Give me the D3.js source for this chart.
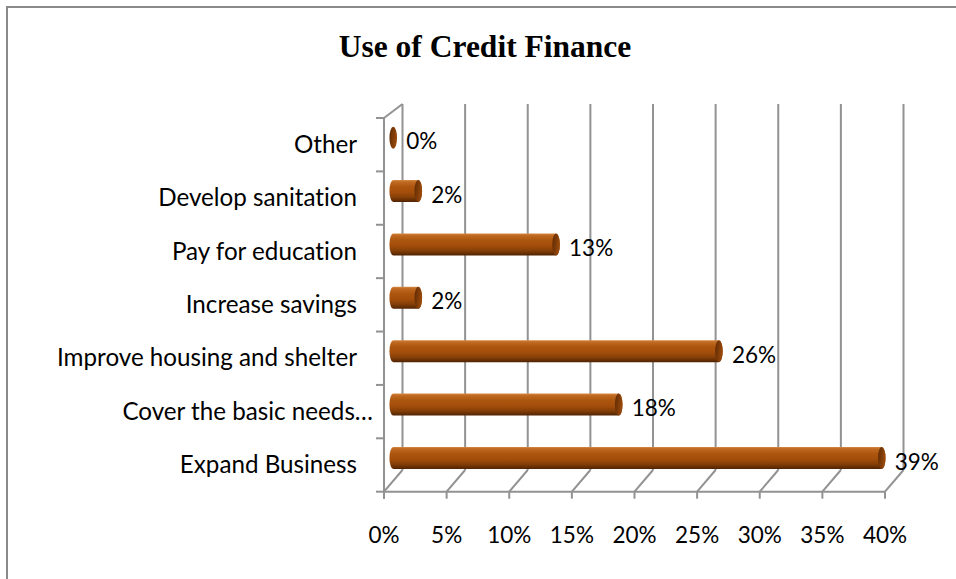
<!DOCTYPE html>
<html>
<head>
<meta charset="utf-8">
<script src="https://cdn.jsdelivr.net/npm/d3@7"></script>
<style>
  html, body { margin: 0; padding: 0; background: #fff; }
  svg { display: block; }
  text { font-variant-ligatures: none; font-feature-settings: "liga" 0, "clig" 0; }
</style>
</head>
<body>
<svg id="chart" width="956" height="579"></svg>
<script>
// Uses of credit finance, share of respondents (%)
const categories = [
  "Expand Business",
  "Cover the basic needs…",
  "Improve housing and shelter",
  "Increase savings",
  "Pay for education",
  "Develop sanitation",
  "Other"
];
const values = [39, 18, 26, 2, 13, 2, 0];
const xTicks = [0, 5, 10, 15, 20, 25, 30, 35, 40];
const title = "Use of Credit Finance";

const svg = d3.select("#chart");
const W = 956, H = 579;

// Outer frame
svg.append("rect")
  .attr("x", 7).attr("y", 7).attr("width", W + 20).attr("height", H + 20)
  .attr("fill", "#fff").attr("stroke", "#8a8a8a").attr("stroke-width", 2);

// Title
svg.append("text")
  .attr("x", 485).attr("y", 57)
  .attr("text-anchor", "middle")
  .style("font-family", "'Liberation Serif', 'Times New Roman', serif")
  .style("font-weight", "bold")
  .style("font-size", "31.5px")
  .attr("fill", "#000")
  .text(title);

// 3D box geometry: front plane and back wall
const frontBottom = 491.7, frontTop = 118;
const backBottom = 470, backTop = 104;
const depthX = 18.5;

const xFront = d3.scaleLinear().domain([0, 40]).range([384, 885]);
const xBack = v => xFront(v) + depthX;
const xMid = v => xFront(v) + depthX / 2;

const yBand = d3.scaleBand()
  .domain(categories.slice().reverse())
  .range([frontTop, frontBottom])
  .paddingInner(0).paddingOuter(0);

const grid = svg.append("g")
  .attr("stroke", "#929292").attr("stroke-width", 2).attr("fill", "none");

// Back-wall vertical gridlines and floor diagonals
xTicks.forEach(t => {
  grid.append("line")
    .attr("x1", xBack(t)).attr("x2", xBack(t))
    .attr("y1", backTop).attr("y2", backBottom);
  grid.append("line")
    .attr("x1", xFront(t)).attr("y1", frontBottom)
    .attr("x2", xBack(t)).attr("y2", backBottom);
  // tick mark below the front edge
  grid.append("line")
    .attr("x1", xFront(t)).attr("x2", xFront(t))
    .attr("y1", frontBottom).attr("y2", frontBottom + 7);
});

// Front floor edge
grid.append("line")
  .attr("x1", xFront(0)).attr("x2", xFront(40))
  .attr("y1", frontBottom).attr("y2", frontBottom);

// Left wall: front edge and top diagonal
grid.append("line")
  .attr("x1", xFront(0)).attr("x2", xFront(0))
  .attr("y1", frontTop).attr("y2", frontBottom + 7);
grid.append("line")
  .attr("x1", xFront(0)).attr("y1", frontTop)
  .attr("x2", xBack(0)).attr("y2", backTop);

// Category boundary ticks on the left axis
const boundaries = yBand.domain().map(c => yBand(c)).concat([frontBottom]);
boundaries.forEach(y => {
  grid.append("line")
    .attr("x1", xFront(0) - 8).attr("x2", xFront(0))
    .attr("y1", y).attr("y2", y);
});

// Cylinder shading
const defs = svg.append("defs");
const body = defs.append("linearGradient")
  .attr("id", "cylBody").attr("x1", 0).attr("y1", 0).attr("x2", 0).attr("y2", 1);
[
  [0, "#d58a45"], [0.08, "#c06a22"], [0.3, "#ad560f"], [0.55, "#a44e0b"],
  [0.78, "#853f07"], [1, "#4f2303"]
].forEach(([o, c]) => body.append("stop").attr("offset", o).attr("stop-color", c));

const cap = defs.append("linearGradient")
  .attr("id", "cylCap").attr("x1", 0).attr("y1", 0).attr("x2", 1).attr("y2", 0.3);
[
  [0, "#5e2a04"], [0.5, "#7a3907"], [1, "#9a4a0c"]
].forEach(([o, c]) => cap.append("stop").attr("offset", o).attr("stop-color", c));

const barH = 22;
const rx = 3.8;
const barCenter = c => yBand(c) + yBand.bandwidth() / 2 - 7;

const bars = svg.append("g");
categories.forEach((c, i) => {
  const v = values[i];
  const cy = barCenter(c);
  const x0 = xMid(0), x1 = xMid(v);
  const top = cy - barH / 2, bot = cy + barH / 2;
  if (x1 - x0 > 0.5) {
    bars.append("path")
      .attr("d", `M${x0},${top} L${x1},${top} A${rx},${barH / 2} 0 0 1 ${x1},${bot} L${x0},${bot} A${rx},${barH / 2} 0 0 1 ${x0},${top} Z`)
      .attr("fill", "url(#cylBody)");
  }
  bars.append("ellipse")
    .attr("cx", x1).attr("cy", cy)
    .attr("rx", rx).attr("ry", barH / 2)
    .attr("fill", "url(#cylCap)");
});

const labelFont = "Lato, 'Open Sans', sans-serif";
const numberSize = "22.5px";
const categorySize = "24.2px";

// Value labels
svg.append("g").selectAll("text")
  .data(categories)
  .join("text")
  .attr("x", (c, i) => xMid(values[i]) + 13)
  .attr("y", c => barCenter(c) + 3.5)
  .attr("dy", "0.36em")
  .style("font-family", labelFont).style("font-size", numberSize)
  .attr("fill", "#000")
  .text((c, i) => values[i] + "%");

// Category labels (truncated names hang a little further right)
svg.append("g").selectAll("text")
  .data(categories)
  .join("text")
  .attr("x", c => c.endsWith("…") ? 373 : 357)
  .attr("y", c => yBand(c) + yBand.bandwidth() / 2)
  .attr("dy", "0.34em")
  .attr("text-anchor", "end")
  .style("font-family", labelFont).style("font-size", categorySize)
  .attr("fill", "#000")
  .text(c => c);

// Percentage tick labels
svg.append("g").selectAll("text")
  .data(xTicks)
  .join("text")
  .attr("x", t => xFront(t))
  .attr("y", 535)
  .attr("dy", "0.36em")
  .attr("text-anchor", "middle")
  .style("font-family", labelFont).style("font-size", numberSize)
  .attr("fill", "#000")
  .text(t => t + "%");
</script>
</body>
</html>
